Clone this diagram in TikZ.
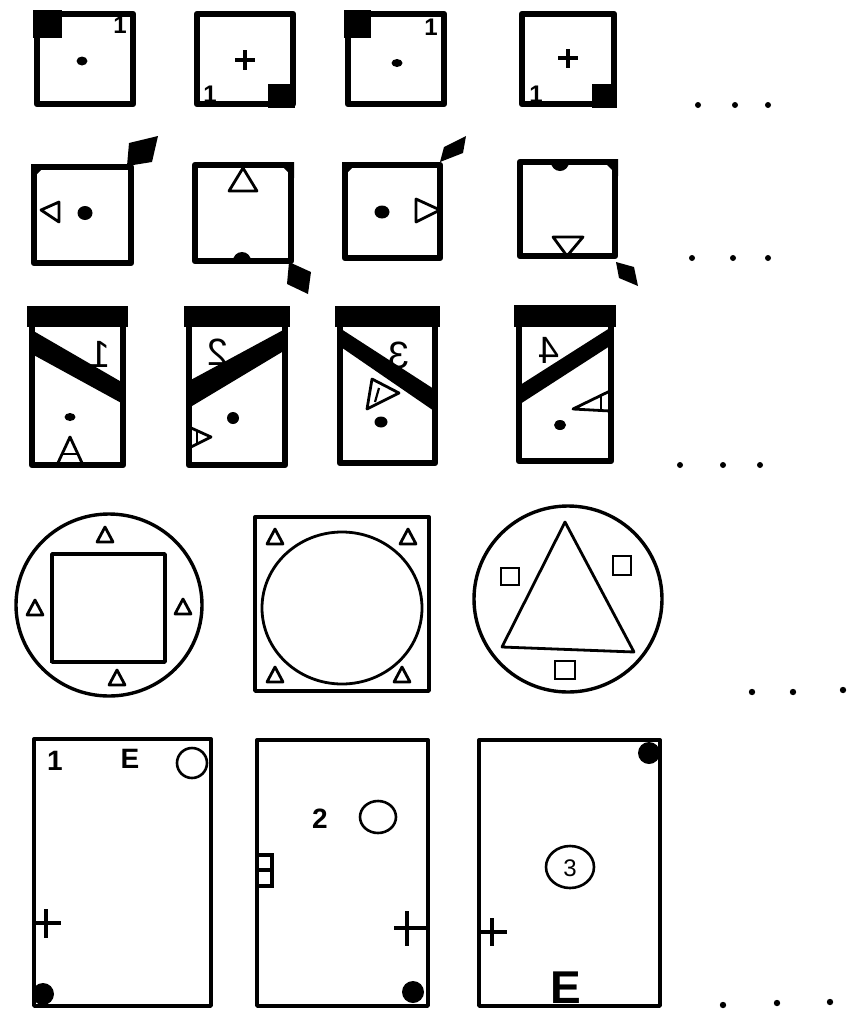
\documentclass[tikz,border=0pt]{standalone}
\usepackage{fontspec}
\setmainfont{Liberation Sans}
\begin{document}
\begin{tikzpicture}[x=1pt,y=-1pt,
  thickbox/.style={draw=black,line width=6.5pt,line join=round},
  thinbox/.style={draw=black,line width=3.4pt,line join=round},
  outl/.style={draw=black,line width=2.8pt,line join=round},
  lbl/.style={inner sep=0pt,font=\bfseries\fontsize{24}{24}\selectfont},
  mirr/.style={inner sep=0pt,xscale=-1,font=\fontsize{38}{38}\selectfont},
  bigl/.style={inner sep=0pt,font=\bfseries\fontsize{28}{28}\selectfont}]
\useasboundingbox (0,0) rectangle (861,1015);
\fill[white] (0,0) rectangle (861,1015);
% ---------- Row 1 ----------
\fill (33,10) rectangle (62,38);
\draw[thickbox] (37,14) rectangle (133,104);
\node[lbl] (r1a) at (120,25) {1};
\fill (82,61) ellipse (5.5 and 4.5);
\fill (268,84) rectangle (295,108);
\draw[thickbox] (197,14) rectangle (293,104);
\node[lbl] (r1b) at (210,94) {1};
\draw[line width=3.5pt] (235,60) -- (255,60) (245,50) -- (245,70);
\fill (344,10) rectangle (371,38);
\draw[thickbox] (348,14) rectangle (444,104);
\node[lbl] (r1c) at (431,27) {1};
\fill (397,63) ellipse (5.5 and 4);
\fill (592,84) rectangle (617,108);
\draw[thickbox] (522,14) rectangle (614,104);
\node[lbl] (r1d) at (536,94) {1};
\draw[line width=3.5pt] (558,58) -- (578,58) (568,49) -- (568,68);
\foreach \x in {698,735,768} \fill (\x,105) circle (3);
% ---------- Row 2 ----------
% box 1
\draw[thickbox] (34,167) rectangle (131,263);
\fill (31,164) -- (47,164) -- (31,180) -- cycle;
\fill (127,166) -- (129,143) -- (158,136) -- (152,162) -- cycle;
\draw[outl] (41,210) -- (59,202) -- (59,222) -- cycle;
\fill (85,213) ellipse (7.5 and 7);
% box 2
\draw[thickbox] (195,165) rectangle (291,261);
\fill (294,162) -- (278,162) -- (294,178) -- cycle;
\draw[outl] (243,168) -- (257,191) -- (229,191) -- cycle;
\fill (233,261) arc[start angle=180,end angle=360,radius=9] -- cycle;
\fill (289,262) -- (311,272) -- (308,294) -- (287,284) -- cycle;
% box 3
\draw[thickbox] (345,165) rectangle (440,258);
\fill (342,162) -- (358,162) -- (342,178) -- cycle;
\fill (440,162) -- (444,147) -- (466,136) -- (463,153) -- cycle;
\fill (382,212) ellipse (7.5 and 6.5);
\draw[outl] (440,210) -- (416,199) -- (416,222) -- cycle;
% box 4
\draw[thickbox] (520,162) rectangle (615,256);
\fill (618,159) -- (601,159) -- (618,176) -- cycle;
\fill (551,162) arc[start angle=180,end angle=0,radius=9] -- cycle;
\draw[outl] (567,256) -- (553,237) -- (583,237) -- cycle;
\fill (616,262) -- (634,267) -- (638,286) -- (619,278) -- cycle;
\foreach \x in {692,733,768} \fill (\x,258) circle (3);
% ---------- Row 3 ----------
% card 1
\fill (27,306) rectangle (128,327);
\fill (30,329) -- (125,384) -- (125,405) -- (30,353) -- cycle;
\draw[thickbox] (32,310) rectangle (123,465);
\node[mirr] (m1) at (100,354) {1};
\fill (70,417) ellipse (5.5 and 4);
\draw[outl] (70,437) -- (83,465) -- (57,465) -- cycle;
\draw[line width=2.2pt] (62,454) -- (78,454);
% card 2
\fill (184,306) rectangle (290,327);
\fill (287,328) -- (287,349) -- (187,409) -- (187,382) -- cycle;
\draw[thickbox] (189,310) rectangle (285,465);
\node[mirr] (m2) at (218,352) {2};
\fill (233,418) circle (6);
\draw[outl] (211,437) -- (189,427) -- (189,448) -- cycle;
\draw[line width=2.2pt] (197,430) -- (197,445);
% card 3
\fill (335,306) rectangle (440,327);
\fill (338,327) -- (437,391) -- (437,413) -- (338,345) -- cycle;
\draw[thickbox] (340,310) rectangle (435,463);
\node[mirr] (m3) at (399,355) {3};
\draw[outl] (372,379) -- (399,393) -- (367,409) -- cycle;
\draw[line width=2.2pt] (379,388) -- (375,402);
\fill (381,422) ellipse (6.5 and 5.5);
% card 4
\fill (514,305) rectangle (616,327);
\fill (613,326) -- (613,344) -- (517,406) -- (517,387) -- cycle;
\draw[thickbox] (519,309) rectangle (611,461);
\node[mirr] (m4) at (549,350) {4};
\draw[outl] (573,409) -- (610,391) -- (610,411) -- cycle;
\draw[line width=2.2pt] (601,395) -- (601,409);
\fill (560,425) ellipse (6 and 5);
\foreach \x in {680,723,760} \fill (\x,465) circle (3);
% ---------- Row 4 ----------
\draw[thinbox] (109,605) ellipse (93 and 91);
\draw[line width=3.6pt,line join=round] (52,554) rectangle (165,662);
\draw[line width=4pt] (52,554) -- (52,663);
\draw[outl] (105,527) -- (113,542) -- (97,542) -- cycle;
\draw[outl] (35,600) -- (43,615) -- (27,615) -- cycle;
\draw[outl] (183,599) -- (191,614) -- (175,614) -- cycle;
\draw[outl] (117,670) -- (125,685) -- (109,685) -- cycle;
\draw[thinbox] (255,517) rectangle (429,691);
\draw[line width=2.8pt] (342,608) ellipse (80 and 76);
\draw[outl] (275,529) -- (283,544) -- (267,544) -- cycle;
\draw[outl] (408,529) -- (416,544) -- (400,544) -- cycle;
\draw[outl] (275,667) -- (283,682) -- (267,682) -- cycle;
\draw[outl] (402,667) -- (410,682) -- (394,682) -- cycle;
\draw[thinbox] (568,599) ellipse (94 and 93);
\draw[line width=2.8pt,line join=round] (565,522) -- (634,652) -- (502,647) -- cycle;
\draw[line width=2.6pt] (501,568) rectangle (519,585);
\draw[line width=2.6pt] (613,556) rectangle (631,575);
\draw[line width=2.6pt] (555,661) rectangle (575,679);
\foreach \x/\y in {752/692,793/692,843/690} \fill (\x,\y) circle (3.2);
% ---------- Row 5 ----------
% card 1
\draw[thinbox] (34,739) rectangle (211,1006);
\node[bigl] (c1a) at (55,761) {1};
\node[bigl] (c1e) at (130,759) {E};
\draw[line width=2.6pt] (192,763) circle (15);
\draw[line width=3.5pt] (34,923) -- (61,923) (46,909) -- (46,938);
\fill (43,994) circle (11);
% card 2
\draw[thinbox] (257,740) rectangle (428,1006);
\node[bigl] (c2a) at (320,819) {2};
\draw[line width=2.6pt] (378,817) ellipse (18 and 16);
\draw[line width=4pt] (257,855) -- (272,855) -- (272,886) -- (257,886) (257,870) -- (272,870);
\draw[line width=3.5pt] (394,928) -- (428,928) (407,911) -- (407,946);
\fill (413,992) circle (11);
% card 3
\draw[thinbox] (479,740) rectangle (660,1006);
\fill (649,753) circle (11);
\node[font=\fontsize{24}{24}\selectfont,inner sep=0pt] (c3n) at (570,868) {3};
\draw[line width=2.6pt] (570,867) ellipse (24 and 21);
\draw[line width=3.8pt] (479,932) -- (507,932) (492,918) -- (492,946);
\node[inner sep=0pt,font=\bfseries\fontsize{46}{46}\selectfont] (c3e) at (566,988) {E};
\foreach \x/\y in {723/1005,777/1003,830/1002} \fill (\x,\y) circle (3.2);
\end{tikzpicture}
\end{document}
